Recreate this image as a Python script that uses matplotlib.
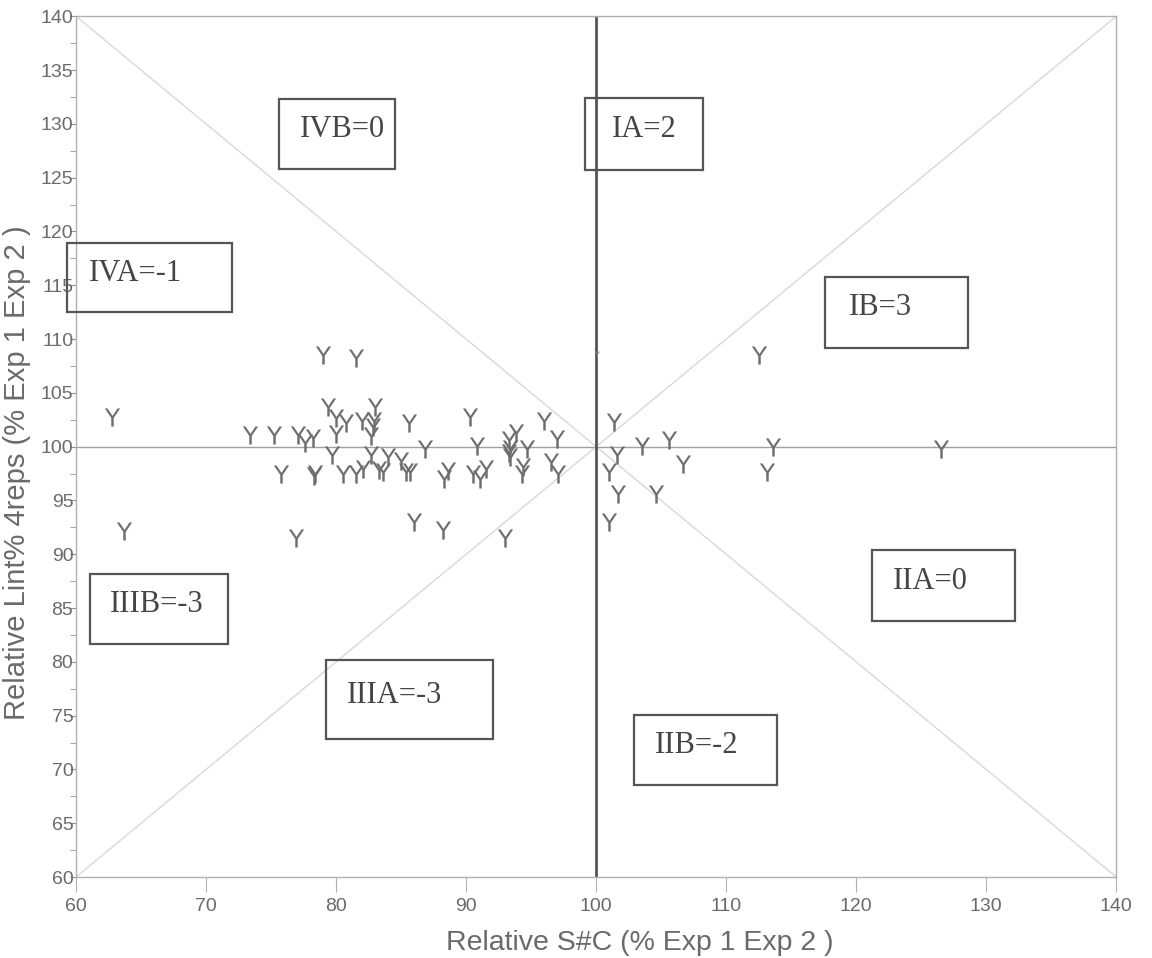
import matplotlib
matplotlib.use("Agg")
import matplotlib.pyplot as plt
from matplotlib.patches import Rectangle

# relative S#C (x) and relative lint% (y) for each line
sc = [62.8, 63.7, 73.4, 75.2, 75.8, 76.9, 77.1, 77.6, 78.2, 78.4, 78.3,
      79.0, 81.5, 79.4, 80.0, 80.8, 80.0, 79.7, 80.5, 81.5, 82.0,
      83.0, 82.9, 82.8, 82.7, 85.6, 90.3, 86.8, 90.8, 93.8, 93.3,
      93.4, 93.3, 93.4, 94.7, 96.0, 97.0, 96.5, 97.1, 94.4, 94.3,
      91.5, 91.1, 90.5, 88.6, 88.3, 85.7, 85.4, 85.0, 84.0, 83.6,
      83.3, 82.7, 82.1, 86.0, 88.2, 93.0,
      101.4, 101.6, 101.0, 101.7, 101.0, 103.5, 105.6, 106.7, 104.6,
      112.5, 113.6, 113.1, 126.5]
lint = [102.8, 92.2, 101.1, 101.1, 97.5, 91.5, 101.1, 100.3, 100.8, 97.5, 97.3,
        108.5, 108.2, 103.7, 102.7, 102.2, 101.2, 99.2, 97.5, 97.5, 102.4,
        103.7, 102.4, 101.8, 101.0, 102.2, 102.8, 99.8, 100.1, 101.3, 100.6,
        99.8, 99.4, 99.0, 99.8, 102.4, 100.7, 98.6, 97.5, 98.1, 97.5,
        97.9, 97.0, 97.5, 97.7, 97.0, 97.6, 97.6, 98.7, 99.0, 97.6,
        97.8, 99.2, 97.9, 93.0, 92.3, 91.5,
        102.3, 99.2, 97.6, 95.6, 93.0, 100.1, 100.6, 98.4, 95.6,
        108.5, 100.0, 97.6, 99.8]
odd_x = [100.05]
odd_y = [108.6]

zone_labels = ["IVB=0", "IA=2", "IVA=-1", "IB=3", "IIA=0", "IIIB=-3", "IIIA=-3", "IIB=-2"]
# box corners (x0, x1, y0, y1) in data units, text x start
zone_boxes = [(75.6, 84.5, 125.8, 132.3, 77.2),
              (99.15, 108.2, 125.7, 132.4, 101.2),
              (59.3, 72.0, 112.5, 118.9, 61.0),
              (117.6, 128.6, 109.2, 115.8, 119.4),
              (121.2, 132.2, 83.8, 90.4, 122.8),
              (61.1, 71.7, 81.7, 88.2, 62.6),
              (79.2, 92.1, 72.8, 80.2, 80.8),
              (102.9, 113.9, 68.6, 75.1, 104.5)]

fig = plt.figure(figsize=(11.52, 9.58), dpi=100)
ax = fig.add_axes([0.066, 0.0845, 0.903, 0.8985])

gray = "#6a6a6a"
ax.plot([60, 140], [140, 60], color="#d8d8d8", lw=1)
ax.plot([60, 140], [60, 140], color="#d8d8d8", lw=1)
ax.axhline(100, color="#a0a0a0", lw=1)
ax.axvline(100, color="#555555", lw=2)

ax.scatter(sc, lint, marker=r"$\mathsf{Y}$", s=170, color="#6e6e6e", linewidths=0, zorder=3)
ax.scatter(odd_x, odd_y, marker=r"$\mathsf{Y}$", s=20, color="#8a8a8a", linewidths=0, zorder=3)

for lab, (x0, x1, y0, y1, tx) in zip(zone_labels, zone_boxes):
    ax.add_patch(Rectangle((x0, y0), x1 - x0, y1 - y0, fill=False, edgecolor="#555555",
                           lw=1.6, clip_on=False, zorder=4))
    ax.text(tx, (y0 + y1) / 2 + 0.4, lab, family="Liberation Serif", fontsize=22,
            color="#454545", ha="left", va="center", zorder=5)

ax.set_xlim(60, 140)
ax.set_ylim(60, 140)
ax.set_xticks(range(60, 141, 10))
ax.set_yticks(range(60, 141, 5))
ax.set_yticks([62.5 + 5 * i for i in range(16)], minor=True)
for s in ax.spines.values():
    s.set_color("#b0b0b0")
    s.set_linewidth(1)
ax.tick_params(axis="x", length=11, color="#b0b0b0", labelsize=14, labelcolor=gray, pad=4)
ax.tick_params(axis="y", which="major", length=4, color="#909090", labelsize=14, labelcolor=gray, pad=-2)
ax.tick_params(axis="y", which="minor", length=4, color="#909090")
for t in ax.get_xticklabels() + ax.get_yticklabels():
    t.set_family("Liberation Sans")

ax.set_xlabel("Relative S#C (% Exp 1 Exp 2 )", family="Liberation Sans", fontsize=20.5,
              color=gray)
ax.set_ylabel("Relative Lint% 4reps (% Exp 1 Exp 2 )", family="Liberation Sans", fontsize=21,
              color=gray)
ax.xaxis.set_label_coords(0.542, -0.061)
ax.yaxis.set_label_coords(-0.043, 0.47)

fig.savefig("out.png", dpi=100)
